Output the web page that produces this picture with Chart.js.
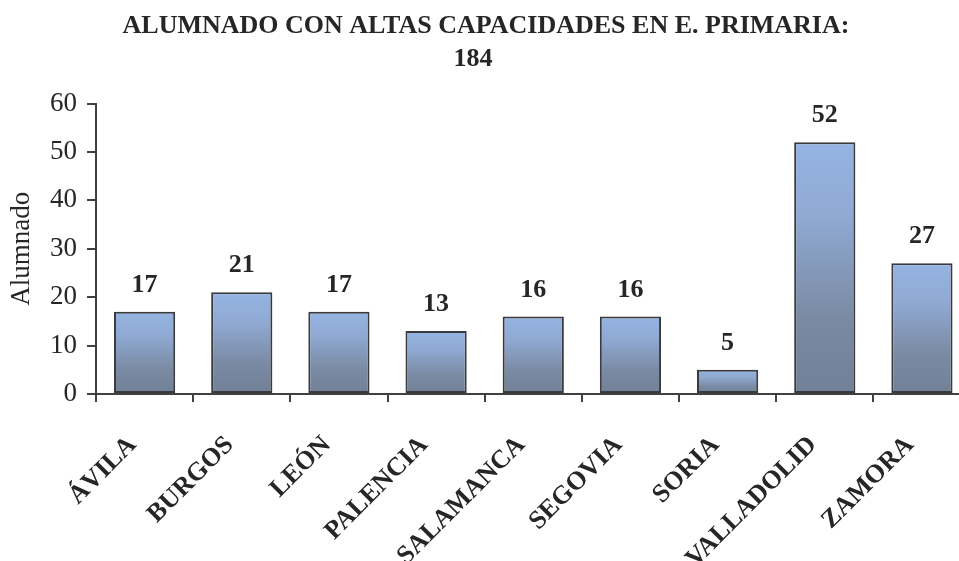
<!DOCTYPE html>
<html>
<head>
<meta charset="utf-8">
<script src="https://cdn.jsdelivr.net/npm/chart.js@4/dist/chart.umd.min.js"></script>
<style>
  html, body { margin: 0; padding: 0; background: #fff; overflow: hidden; }
  #wrap { width: 972px; height: 561px; }
</style>
</head>
<body>
<div id="wrap"><canvas id="chart"></canvas></div>
<script>
// données
const provincias = ['ÁVILA', 'BURGOS', 'LEÓN', 'PALENCIA', 'SALAMANCA', 'SEGOVIA', 'SORIA', 'VALLADOLID', 'ZAMORA'];
const alumnado = [17, 21, 17, 13, 16, 16, 5, 52, 27];
const titulo = 'ALUMNADO CON ALTAS CAPACIDADES EN E. PRIMARIA:';
const total = '184';
const ejeY = 'Alumnado';
const yMax = 60;
const yPaso = 10;

const SERIF = "'Liberation Serif', 'Times New Roman', serif";
const INK = '#262626';

// dégradé vertical propre à chaque barre
function barGradient(context) {
    const chart = context.chart;
    const y = chart.scales.y;
    if (!chart.chartArea || !y || context.raw === undefined) return '#8ea9d4';
    const top = y.getPixelForValue(context.raw);
    const bottom = y.getPixelForValue(0);
    const g = chart.ctx.createLinearGradient(0, top, 0, bottom);
    g.addColorStop(0, '#95b4e2');
    g.addColorStop(0.3, '#8fa9d2');
    g.addColorStop(0.7, '#7a8aa3');
    g.addColorStop(1, '#718096');
    return g;
}

// étiquettes de valeur au-dessus des barres
const valueLabels = {
    id: 'valueLabels',
    afterDatasetsDraw(chart) {
        const ctx = chart.ctx;
        const meta = chart.getDatasetMeta(0);
        ctx.save();
        ctx.font = 'bold 26px ' + SERIF;
        ctx.fillStyle = INK;
        ctx.textAlign = 'center';
        ctx.textBaseline = 'alphabetic';
        meta.data.forEach((bar, i) => {
            ctx.fillText(String(alumnado[i]), bar.x, bar.y - 20);
        });
        ctx.restore();
    }
};

const chart = new Chart(document.getElementById('chart').getContext('2d'), {
    type: 'bar',
    data: {
        labels: provincias,
        datasets: [{
            data: alumnado,
            backgroundColor: barGradient,
            borderColor: '#3a3b3e',
            borderWidth: 2,
            borderSkipped: false,
            barPercentage: 0.63,
            categoryPercentage: 1
        }]
    },
    options: {
        responsive: true,
        maintainAspectRatio: false,
        animation: false,
        layout: { padding: 0 },
        scales: {
            y: {
                min: 0,
                max: yMax,
                afterFit(scale) { scale.width = 96; },
                ticks: {
                    stepSize: yPaso,
                    color: INK,
                    padding: 10,
                    font: { family: SERIF, size: 27 }
                },
                grid: {
                    drawOnChartArea: false,
                    drawTicks: true,
                    tickLength: 9,
                    color: '#404040',
                    lineWidth: 2
                },
                border: { display: true, color: '#404040', width: 2 },
                title: {
                    display: true,
                    text: ejeY,
                    color: INK,
                    padding: { top: 6, bottom: 0 },
                    font: { family: SERIF, size: 27 }
                }
            },
            x: {
                afterFit(scale) { scale.height = 167; },
                ticks: {
                    color: INK,
                    minRotation: 45,
                    maxRotation: 45,
                    padding: 28,
                    labelOffset: -12,
                    font: { family: SERIF, size: 26, weight: 'bold' }
                },
                grid: {
                    offset: true,
                    drawOnChartArea: false,
                    drawTicks: true,
                    tickLength: 8,
                    color: '#404040',
                    lineWidth: 2
                },
                border: { display: true, color: '#404040', width: 2 }
            }
        },
        plugins: {
            legend: { display: false },
            tooltip: { enabled: false },
            title: {
                display: true,
                text: titulo,
                color: INK,
                padding: { top: 9, bottom: 0 },
                font: { family: SERIF, size: 26, weight: 'bold', lineHeight: 1.3 }
            },
            subtitle: {
                display: true,
                // espaces finales : le total est un peu décalé à gauche dans l'original
                text: total + '\u2007\u2007',
                color: INK,
                padding: { top: 0, bottom: 27 },
                font: { family: SERIF, size: 26, weight: 'bold', lineHeight: 1.3 }
            }
        }
    },
    plugins: [valueLabels]
});
</script>
</body>
</html>
